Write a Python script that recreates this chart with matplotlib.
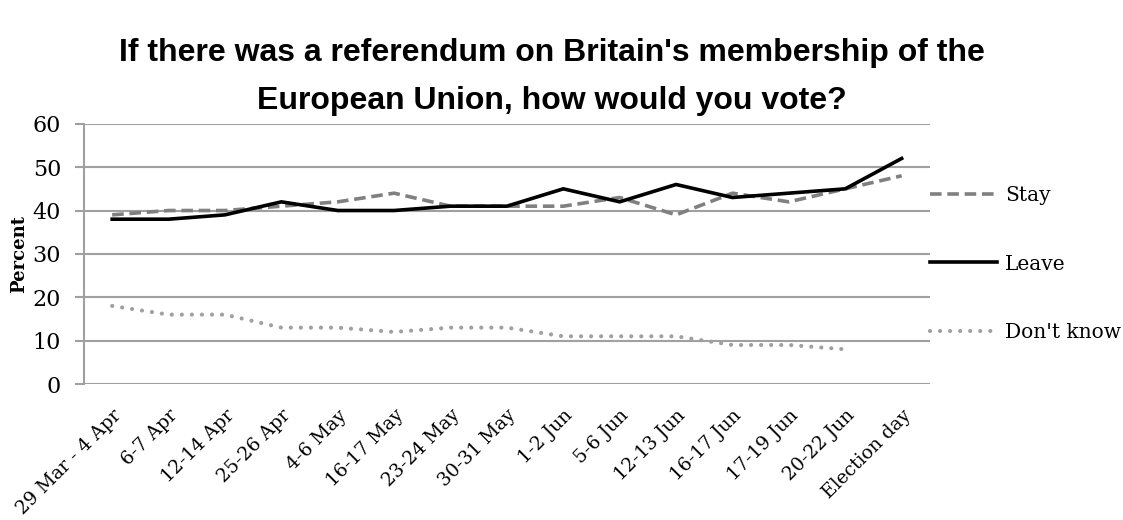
import matplotlib
matplotlib.use("Agg")
import matplotlib.pyplot as plt

# poll dates (x categories)
periods = ["29 Mar - 4 Apr", "6-7 Apr", "12-14 Apr", "25-26 Apr", "4-6 May",
           "16-17 May", "23-24 May", "30-31 May", "1-2 Jun", "5-6 Jun",
           "12-13 Jun", "16-17 Jun", "17-19 Jun", "20-22 Jun", "Election day"]

stay = [39, 40, 40, 41, 42, 44, 41, 41, 41, 43, 39, 44, 42, 45, 48]
leave = [38, 38, 39, 42, 40, 40, 41, 41, 45, 42, 46, 43, 44, 45, 52]
dont_know = [18, 16, 16, 13, 13, 12, 13, 13, 11, 11, 11, 9, 9, 8]

y_ticks = [0, 10, 20, 30, 40, 50, 60]

serif = "DejaVu Serif"

fig = plt.figure(figsize=(11.23, 5.2), dpi=100)
ax = fig.add_axes([0.0748, 0.2615, 0.7532, 0.5005])

x = list(range(len(periods)))
ax.plot(x, stay, color="#808080", lw=2.6, dashes=(3.2, 1.6), label="Stay")
ax.plot(x, leave, color="black", lw=2.6, label="Leave")
ax.plot(x[:len(dont_know)], dont_know, color="#a0a0a0", lw=3.0,
        dashes=(0.01, 2.4), dash_capstyle="round", label="Don't know")

ax.set_xlim(-0.5, len(periods) - 0.5)
ax.set_ylim(0, 60)
ax.set_yticks(y_ticks)
ax.set_xticks(x)
ax.set_xticklabels(periods, rotation=45, ha="right", va="top",
                   rotation_mode="anchor", fontsize=13.5, family=serif)
for lab in ax.get_yticklabels():
    lab.set_family(serif)
    lab.set_fontsize(16)

ax.grid(axis="y", color="#a0a0a0", lw=1.5)
ax.set_axisbelow(True)
for side in ["top", "right", "bottom"]:
    ax.spines[side].set_visible(False)
ax.spines["left"].set_color("#a0a0a0")
ax.spines["left"].set_linewidth(1.5)
ax.tick_params(axis="y", length=6.5, width=1.5, color="#a0a0a0", pad=10)
ax.tick_params(axis="x", length=0, pad=16)

ax.set_ylabel("Percent", family=serif, fontweight="bold", fontsize=13, labelpad=3)

ax.legend(loc="center left", bbox_to_anchor=(1.0, 0.461), frameon=False,
          borderaxespad=0, borderpad=0, handlelength=3.35, handletextpad=0.4,
          labelspacing=2.45, prop={"family": serif, "size": 14.5})

fig.text(0.4915, 1 - 77 / 520,
         "If there was a referendum on Britain's membership of the\nEuropean Union, how would you vote?",
         ha="center", va="center", family="Liberation Sans", fontweight="bold",
         fontsize=23, linespacing=1.75)

fig.savefig("out.png", dpi=100)
